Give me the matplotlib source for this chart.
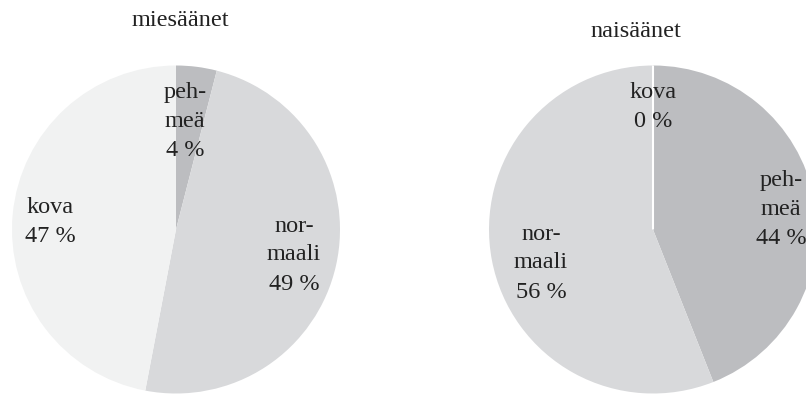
import matplotlib
matplotlib.use("Agg")
import matplotlib.pyplot as plt

# Äänen voimakkuuden jakauma (%)
categories = ["pehmeä", "normaali", "kova"]
label_text = ["peh-\nmeä", "nor-\nmaali", "kova"]
men_values = [4, 49, 47]
women_values = [44, 56, 0]
titles = ["miesäänet", "naisäänet"]

colors = ["#bcbdc0", "#d8d9db", "#f1f2f2"]

W, H = 806, 394
FONT = ["Liberation Serif", "DejaVu Serif"]
FS = 17.5

fig = plt.figure(figsize=(W / 100, H / 100), dpi=100)
ax = fig.add_axes([0, 0, 1, 1])

# pie layout in pixel units (x from left, y from top)
pies = [
    dict(values=men_values, title=titles[0], center=(176, 229.5), title_pos=(180, 20),
         label_pos=[(185, 121), (294, 255), (50, 222)]),
    dict(values=women_values, title=titles[1], center=(653, 229.5), title_pos=(636, 31),
         label_pos=[(781, 209), (541, 263), (653, 107)]),
]
radius = 164

for p in pies:
    cx, cy = p["center"]
    wedges, _ = ax.pie(p["values"], colors=colors, startangle=90, counterclock=False,
                       center=(cx, H - cy), radius=radius, frame=True,
                       wedgeprops=dict(linewidth=0))
    for w, v in zip(wedges, p["values"]):
        if v == 0:
            w.set_edgecolor("white")
            w.set_linewidth(1.5)
    for txt, v, (lx, ly) in zip(label_text, p["values"], p["label_pos"]):
        ax.text(lx, H - ly, f"{txt}\n{v} %", ha="center", va="center",
                family=FONT, fontsize=FS, color="#222222", linespacing=1.5)
    tx, ty = p["title_pos"]
    ax.text(tx, H - ty, p["title"], ha="center", va="center",
            family=FONT, fontsize=FS, color="#222222")

ax.set_xlim(0, W)
ax.set_ylim(0, H)
ax.set_aspect("equal")
ax.axis("off")
fig.savefig("out.png", dpi=100)
